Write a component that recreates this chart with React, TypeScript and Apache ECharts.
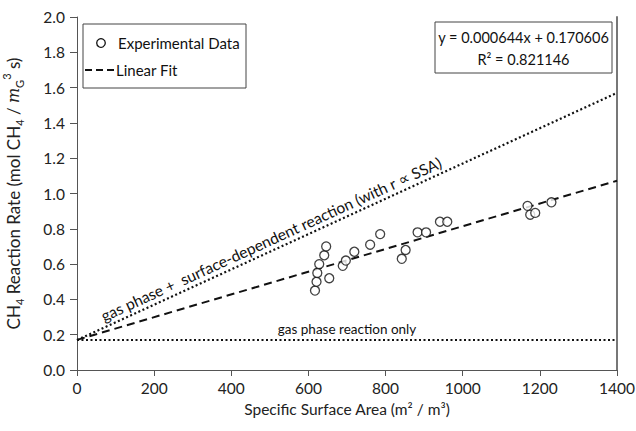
import React, { useEffect, useRef } from "react";
import * as echarts from "echarts";

const ssaValues = [617, 621, 623, 628, 641, 646, 654, 689, 697, 719, 760, 786, 842, 852, 883, 905, 941, 960, 1168, 1175, 1188, 1230];
const rateValues = [0.45, 0.50, 0.55, 0.60, 0.65, 0.70, 0.52, 0.59, 0.62, 0.67, 0.71, 0.77, 0.63, 0.68, 0.78, 0.78, 0.84, 0.84, 0.93, 0.88, 0.89, 0.95];

// Line end points
const lineX = [0, 1400];
const fitY = [0.1706, 1.0722];
const surfaceY = [0.17, 1.57];
const gasOnlyY = [0.17, 0.17];

const FONT = "Lato";

export default function App() {
  const ref = useRef<HTMLDivElement>(null);
  useEffect(() => {
    if (!ref.current) return;
    const chart = echarts.init(ref.current, null, { renderer: "svg" });
    const pairs = (ys: number[]) => lineX.map((x, i) => [x, ys[i]]);
    chart.setOption({
      animation: false,
      textStyle: { fontFamily: FONT },
      grid: { left: 77, right: 19, top: 17, bottom: 61, containLabel: false, outerBoundsMode: "none" },
      xAxis: {
        type: "value",
        min: 0,
        max: 1400,
        interval: 200,
        name: "Specific Surface Area (m² / m³)",
        nameLocation: "middle",
        nameGap: 27,
        nameTextStyle: { fontFamily: FONT, fontSize: 15.5, color: "#222" },
        axisLine: { lineStyle: { color: "#555", width: 1 } },
        axisTick: { show: true, length: 6, lineStyle: { color: "#555" } },
        axisLabel: { fontFamily: FONT, fontSize: 15.5, color: "#222", margin: 10, formatter: (v: number) => String(v) },
        splitLine: { show: false },
      },
      yAxis: [
        {
          type: "value",
          min: 0,
          max: 2,
          interval: 0.2,
          name: "{a|CH}{s|4}{a| Reaction Rate (mol CH}{s|4}{a| / }{i|m}{s|G}{p|3}{a| s)}",
          nameLocation: "middle",
          nameRotate: 90,
          nameGap: 52,
          nameTextStyle: {
            fontFamily: FONT,
            color: "#222",
            rich: {
              a: { fontFamily: FONT, fontSize: 17, color: "#222", lineHeight: 24, verticalAlign: "middle" },
              s: { fontFamily: FONT, fontSize: 11, color: "#222", lineHeight: 24, verticalAlign: "bottom" },
              p: { fontFamily: FONT, fontSize: 11, color: "#222", lineHeight: 24, verticalAlign: "top" },
              i: { fontFamily: "DejaVu Serif", fontStyle: "italic", fontSize: 16, color: "#222", lineHeight: 24, verticalAlign: "middle" },
            },
          },
          axisLine: { show: true, lineStyle: { color: "#555", width: 1 } },
          axisTick: { show: true, length: 7, lineStyle: { color: "#555" } },
          axisLabel: { fontFamily: FONT, fontSize: 15.5, color: "#222", margin: 12, formatter: (v: number) => v.toFixed(1) },
          splitLine: { show: false },
        },
        {
          type: "value",
          min: 0,
          max: 2,
          position: "right",
          axisLine: { show: true, lineStyle: { color: "#777", width: 2 } },
          axisTick: { show: false },
          axisLabel: { show: false },
          splitLine: { show: false },
        },
      ],
      series: [
        {
          name: "Experimental Data",
          type: "scatter",
          symbol: "circle",
          symbolSize: 9,
          itemStyle: { color: "#fff", borderColor: "#111", borderWidth: 1.3 },
          data: ssaValues.map((x, i) => [x, rateValues[i]]),
          z: 5,
        },
        {
          name: "Linear Fit",
          type: "line",
          showSymbol: false,
          symbol: "none",
          data: pairs(fitY),
          lineStyle: { color: "#111", width: 2, type: [8, 5] },
          z: 3,
        },
        {
          name: "surface",
          type: "line",
          showSymbol: false,
          symbol: "none",
          data: pairs(surfaceY),
          lineStyle: { color: "#111", width: 2.2, type: [2, 2.5] },
          z: 3,
        },
        {
          name: "gasOnly",
          type: "line",
          showSymbol: false,
          symbol: "none",
          data: pairs(gasOnlyY),
          lineStyle: { color: "#111", width: 2.2, type: [2, 2.5] },
          z: 3,
        },
      ],
    });

    // annotations positioned through the chart's own scales
    const p0 = chart.convertToPixel({ gridIndex: 0 }, [lineX[0], surfaceY[0]]) as number[];
    const p1 = chart.convertToPixel({ gridIndex: 0 }, [lineX[1], surfaceY[1]]) as number[];
    const ang = Math.atan2(p0[1] - p1[1], p1[0] - p0[0]);
    const midX = 515;
    const midY = surfaceY[0] + (surfaceY[1] - surfaceY[0]) * (midX - lineX[0]) / (lineX[1] - lineX[0]);
    const pm = chart.convertToPixel({ gridIndex: 0 }, [midX, midY]) as number[];
    const gap = 3;
    const ax = pm[0] - Math.sin(ang) * gap;
    const ay = pm[1] - Math.cos(ang) * gap;
    const pg = chart.convertToPixel({ gridIndex: 0 }, [700, gasOnlyY[0]]) as number[];

    chart.setOption({
      graphic: [
        {
          type: "text",
          x: ax,
          y: ay,
          rotation: ang,
          style: { text: "gas phase +  surface-dependent reaction (with r ∝ SSA)", fontFamily: FONT, fontSize: 15.5, fill: "#111", align: "center", verticalAlign: "bottom" },
          z: 10,
        },
        {
          type: "text",
          x: pg[0],
          y: pg[1] - 4,
          style: { text: "gas phase reaction only", fontFamily: FONT, fontSize: 13.5, fill: "#111", align: "center", verticalAlign: "bottom" },
          z: 10,
        },
        // legend box
        {
          type: "group",
          x: 83,
          y: 24,
          z: 10,
          children: [
            { type: "rect", shape: { x: 0, y: 0, width: 163, height: 64 }, style: { fill: "#fff", stroke: "#444", lineWidth: 1 } },
            { type: "circle", shape: { cx: 18, cy: 19, r: 4.3 }, style: { fill: "#fff", stroke: "#111", lineWidth: 1.3 } },
            { type: "text", x: 35, y: 19, style: { text: "Experimental Data", fontFamily: FONT, fontSize: 15, fill: "#111", align: "left", verticalAlign: "middle" } },
            { type: "line", shape: { x1: 2, y1: 46, x2: 32, y2: 46 }, style: { stroke: "#111", lineWidth: 2, lineDash: [7, 4] } },
            { type: "text", x: 33, y: 46, style: { text: "Linear Fit", fontFamily: FONT, fontSize: 15, fill: "#111", align: "left", verticalAlign: "middle" } },
          ],
        },
        // equation box
        {
          type: "group",
          x: 435,
          y: 22,
          z: 10,
          children: [
            { type: "rect", shape: { x: 0, y: 0, width: 177, height: 51 }, style: { fill: "#fff", stroke: "#444", lineWidth: 1 } },
            { type: "text", x: 88.5, y: 15, style: { text: "y = 0.000644x + 0.170606", fontFamily: FONT, fontSize: 14.5, fill: "#111", align: "center", verticalAlign: "middle" } },
            { type: "text", x: 88.5, y: 37, style: { text: "R² = 0.821146", fontFamily: FONT, fontSize: 14.5, fill: "#111", align: "center", verticalAlign: "middle" } },
          ],
        },
      ],
    });

    return () => chart.dispose();
  }, []);
  return <div ref={ref} style={{ position: "absolute", left: 0, top: 0, width: 636, height: 431 }} />;
}
